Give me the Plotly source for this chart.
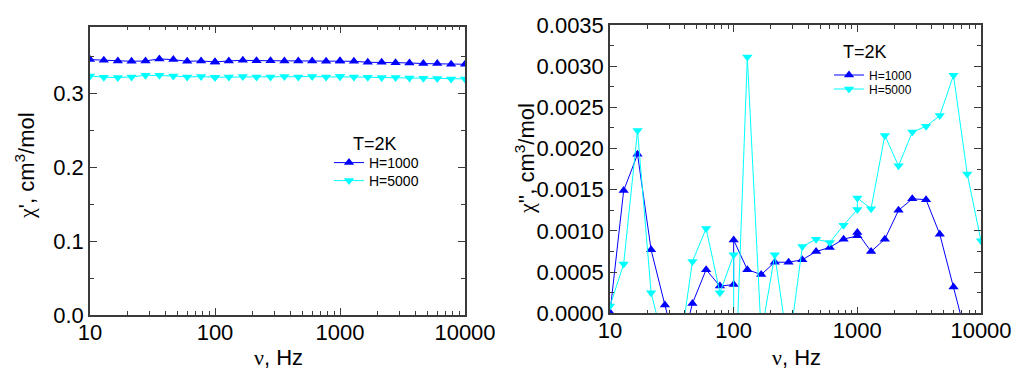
import plotly.graph_objects as go

# Measurement frequencies (Hz); 100 Hz and 1000 Hz were measured twice
freq = [10, 12.9, 16.7, 21.5, 27.8, 35.9, 46.4, 59.9, 77.4, 100, 100,
        129, 167, 215, 278, 359, 464, 599, 774, 1000, 1000,
        1292, 1668, 2154, 2783, 3594, 4642, 5995, 7743, 10000]

# In-phase susceptibility chi' (cm^3/mol) at T = 2 K
chi1_h1000 = [0.3455, 0.3446, 0.3437, 0.3432, 0.3437, 0.3464, 0.3455, 0.3432, 0.3437, 0.3423, 0.3423,
              0.3437, 0.3446, 0.3441, 0.3441, 0.3437, 0.3437, 0.3437, 0.3432, 0.3437, 0.3437,
              0.3432, 0.3419, 0.3419, 0.3414, 0.3410, 0.3401, 0.3401, 0.3392, 0.3392]
chi1_h5000 = [0.3234, 0.3216, 0.3212, 0.3221, 0.3243, 0.3243, 0.3234, 0.3221, 0.3225, 0.3216, 0.3216,
              0.3221, 0.3225, 0.3221, 0.3221, 0.3225, 0.3221, 0.3225, 0.3221, 0.3225, 0.3225,
              0.3221, 0.3216, 0.3212, 0.3212, 0.3207, 0.3203, 0.3198, 0.3194, 0.3194]

# Out-of-phase susceptibility chi'' (cm^3/mol) at T = 2 K
chi2_h1000 = [0.00001, 0.00149, 0.00193, 0.00077, 0.00010, -0.00055, 0.00012, 0.00053, 0.00033, 0.00035, 0.00089,
              0.00053, 0.00047, 0.00062, 0.00062, 0.00065, 0.00075, 0.00080, 0.00090, 0.00094, 0.00098,
              0.00075, 0.00090, 0.00125, 0.00139, 0.00138, 0.00096, 0.00032, -0.00033, -0.00080]
chi2_h5000 = [0.00009, 0.00060, 0.00222, 0.00025, -0.00042, -0.00054, 0.00063, 0.00103, 0.00025, 0.00071, -0.00140,
              0.00311, -0.00026, 0.00071, -0.00045, 0.00081, 0.00090, 0.00086, 0.00107, 0.00126, 0.00140,
              0.00127, 0.00216, 0.00179, 0.00220, 0.00227, 0.00240, 0.00289, 0.00169, 0.00088]

series_names = ["H=1000", "H=5000"]
legend_title = "T=2K"

W, H = 1015, 370
FONT = "Arial, 'Liberation Sans', sans-serif"
GREEK = "'Liberation Serif', 'DejaVu Serif', serif"
BLUE = "#0000ff"
CYAN = "#00ffff"
AXIS_COLOR = "#3a3a3a"


def px_x(p):
    return p / W


def px_y(p):
    return 1 - p / H


def greek(ch):
    return f"<span style=\"font-family:{GREEK}\">{ch}</span>"


fig = go.Figure()

styles = [(BLUE, "triangle-up"), (CYAN, "triangle-down")]

# each legend entry gets its own single-item legend so the rows sit tightly
left_legends = ["legend", "legend2"]
right_legends = ["legend3", "legend4"]

for name, ys, (color, symbol), lg in zip(series_names, [chi1_h1000, chi1_h5000], styles, left_legends):
    fig.add_trace(go.Scatter(
        x=freq, y=ys, name=name, mode="lines+markers",
        line=dict(color=color, width=1),
        marker=dict(color=color, symbol=symbol, size=9),
        xaxis="x", yaxis="y", legend=lg,
    ))

for name, ys, (color, symbol), lg in zip(series_names, [chi2_h1000, chi2_h5000], styles, right_legends):
    fig.add_trace(go.Scatter(
        x=freq, y=ys, name=name, mode="lines+markers",
        line=dict(color=color, width=1),
        marker=dict(color=color, symbol=symbol, size=9),
        xaxis="x2", yaxis="y2", legend=lg,
    ))

common_axis = dict(
    showline=True, linecolor=AXIS_COLOR, linewidth=1.5, mirror="ticks",
    ticks="inside", ticklen=7, tickwidth=1, tickcolor=AXIS_COLOR,
    showgrid=False, zeroline=False, automargin=False,
    tickfont=dict(family=FONT, size=22, color="black"),
)

xaxis_common = dict(
    common_axis, type="log", range=[1, 4],
    tickvals=[10, 100, 1000, 10000], ticktext=["10", "100", "1000", "10000"],
    ticklabelstandoff=-3,
    minor=dict(ticks="inside", ticklen=4, tickcolor=AXIS_COLOR, dtick="D1", showgrid=False),
)

title_font = dict(family=FONT, size=22, color="black")


def legend_box(x_px, y_px, size):
    return dict(
        x=px_x(x_px), y=px_y(y_px), xanchor="left", yanchor="middle",
        bgcolor="rgba(0,0,0,0)", borderwidth=0,
        font=dict(family=FONT, size=size, color="black"),
        itemsizing="trace",
    )


def label(text, x_px, y_px, size=22, angle=0):
    return dict(text=text, x=px_x(x_px), y=px_y(y_px), xref="paper", yref="paper",
                xanchor="center", yanchor="middle", showarrow=False, textangle=angle,
                font=dict(family=FONT, size=size, color="black"))


fig.update_layout(
    template="none",
    width=W, height=H,
    margin=dict(l=0, r=0, t=0, b=0, pad=0),
    paper_bgcolor="white", plot_bgcolor="white",
    font=dict(family=FONT, color="black"),
    showlegend=True,
    xaxis=dict(xaxis_common, domain=[px_x(90), px_x(465)], anchor="y"),
    yaxis=dict(common_axis, domain=[px_y(315), px_y(26.7)], anchor="x",
               range=[0, 0.39], dtick=0.1, tick0=0, tickformat=".1f",
               minor=dict(ticks="inside", ticklen=4, tickcolor=AXIS_COLOR, dtick=0.05, showgrid=False)),
    xaxis2=dict(xaxis_common, domain=[px_x(610), px_x(981)], anchor="y2"),
    yaxis2=dict(common_axis, domain=[px_y(313.3), px_y(25)], anchor="x2",
                range=[0, 0.0035], dtick=0.0005, tick0=0, tickformat=".4f",
                minor=dict(ticks="inside", ticklen=4, tickcolor=AXIS_COLOR, dtick=0.00025, showgrid=False)),
    legend=legend_box(329, 163, 14),
    legend2=legend_box(329, 181, 14),
    legend3=legend_box(829, 75, 12),
    legend4=legend_box(829, 89, 12),
    annotations=[
        label(legend_title, 374.5, 144, size=18),
        label(legend_title, 865, 52, size=18),
        label(greek("ν") + ", Hz", 278, 357),
        label(greek("ν") + ", Hz", 796, 357),
        label(greek("χ") + "', cm<sup>3</sup>/mol", 25, 166, angle=-90),
        label(greek("χ") + "'', cm<sup>3</sup>/mol", 525, 159, angle=-90),
    ],
)

fig.write_html("out.html")
